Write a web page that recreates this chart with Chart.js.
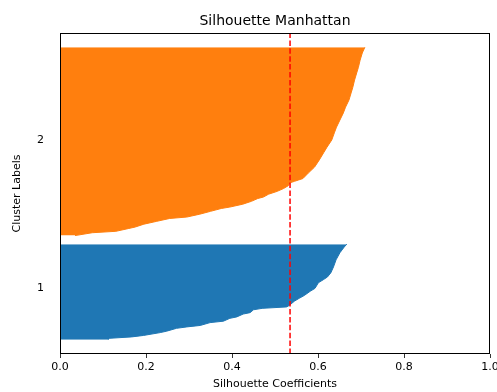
<!DOCTYPE html>
<html>
<head>
<meta charset="utf-8">
<script src="https://cdn.jsdelivr.net/npm/chart.js@4.4.1/dist/chart.umd.min.js"></script>
<style>
  html, body { margin: 0; padding: 0; background: #fff; }
  #wrap { width: 497px; height: 392px; }
</style>
</head>
<body>
<div id="wrap"><canvas id="c" width="497" height="392"></canvas></div>
<script>
// Silhouette profile per cluster: sorted sample rank -> silhouette coefficient
const clusterNames = ['1', '2'];

const cluster1Rank = [0, 1, 2, 3, 5, 6, 8, 9, 10, 12, 13, 15, 16, 18, 19, 21, 22, 23, 24, 27, 29, 31, 34, 36, 40, 42, 44, 47, 51, 56, 61, 65, 67];
const cluster1Silhouette = [0.112, 0.115, 0.167, 0.194, 0.233, 0.248, 0.271, 0.295, 0.326, 0.349, 0.380, 0.395, 0.411, 0.426, 0.442, 0.450, 0.470, 0.527, 0.533, 0.545, 0.556, 0.568, 0.582, 0.593, 0.601, 0.612, 0.622, 0.630, 0.636, 0.642, 0.651, 0.661, 0.667];

const cluster2Rank = [0, 2, 3, 5, 6, 8, 10, 12, 13, 15, 17, 19, 20, 22, 24, 26, 27, 29, 31, 33, 35, 37, 38, 39, 40, 44, 48, 53, 58, 62, 67, 72, 76, 81, 86, 90, 95, 100, 104, 109, 114, 118, 123, 128, 132];
const cluster2Silhouette = [0.035, 0.075, 0.130, 0.160, 0.175, 0.195, 0.225, 0.255, 0.295, 0.325, 0.350, 0.375, 0.395, 0.425, 0.445, 0.460, 0.473, 0.485, 0.505, 0.520, 0.531, 0.535, 0.545, 0.555, 0.565, 0.578, 0.592, 0.603, 0.613, 0.621, 0.632, 0.638, 0.643, 0.651, 0.659, 0.664, 0.672, 0.677, 0.681, 0.685, 0.690, 0.694, 0.698, 0.703, 0.709];

const averageSilhouette = 0.535;
const xTickValues = [0, 0.2, 0.4, 0.6, 0.8, 1.0];
const clusterLabelY = [46, 150];

// Vertical stacking of the bands, in sample units
const bandStart = [10, 83];
const yTop = 225;

const toPoints = (ranks, vals, start) => ranks.map((r, i) => ({ x: vals[i], y: start + r }));

Chart.defaults.font.family = "'DejaVu Sans', sans-serif";
Chart.defaults.color = '#000';

const framePlugin = {
  id: 'frame',
  afterDraw(chart) {
    const { ctx, chartArea: a } = chart;
    ctx.save();
    ctx.strokeStyle = '#000';
    ctx.lineWidth = 1;
    ctx.strokeRect(Math.round(a.left) + 0.5, Math.round(a.top) + 0.5,
                   Math.round(a.right - a.left) - 1, Math.round(a.bottom - a.top) - 1);
    ctx.restore();
  }
};

new Chart(document.getElementById('c'), {
  type: 'line',
  data: {
    datasets: [
      {
        label: 'average',
        data: [{ x: averageSilhouette, y: 0 }, { x: averageSilhouette, y: yTop }],
        borderColor: '#ff0000',
        borderWidth: 1.5,
        borderDash: [5.5, 2.4],
        pointRadius: 0,
        fill: false,
        order: 0
      },
      {
        label: 'Cluster ' + clusterNames[1],
        data: toPoints(cluster2Rank, cluster2Silhouette, bandStart[1]),
        borderColor: '#ff7f0e',
        backgroundColor: '#ff7f0e',
        borderWidth: 1,
        pointRadius: 0,
        tension: 0,
        fill: 'origin',
        order: 1
      },
      {
        label: 'Cluster ' + clusterNames[0],
        data: toPoints(cluster1Rank, cluster1Silhouette, bandStart[0]),
        borderColor: '#1f77b4',
        backgroundColor: '#1f77b4',
        borderWidth: 1,
        pointRadius: 0,
        tension: 0,
        fill: 'origin',
        order: 2
      }
    ]
  },
  options: {
    indexAxis: 'y',
    responsive: false,
    animation: false,
    devicePixelRatio: 1,
    layout: { padding: { left: 0, right: 7, top: 0, bottom: 0 } },
    plugins: {
      legend: { display: false },
      tooltip: { enabled: false },
      title: {
        display: true,
        text: 'Silhouette Manhattan',
        fullSize: false,
        color: '#000',
        font: { size: 14, weight: 'normal' },
        padding: { top: 12.6, bottom: 3.6 }
      }
    },
    scales: {
      x: {
        type: 'linear',
        min: 0,
        max: 1,
        afterBuildTicks: s => { s.ticks = xTickValues.map(v => ({ value: v })); },
        afterFit: s => { s.paddingLeft = 0; s.paddingRight = 0; s.height = 38; },
        ticks: { callback: v => Number(v).toFixed(1), font: { size: 11 }, padding: 3, maxRotation: 0, autoSkip: false },
        grid: { display: true, drawOnChartArea: false, drawTicks: true, tickLength: 4, color: '#000', lineWidth: 0.8 },
        border: { display: false },
        title: { display: true, text: 'Silhouette Coefficients', font: { size: 11 }, padding: { top: 0, bottom: 1 } }
      },
      y: {
        type: 'linear',
        min: 0,
        max: yTop,
        afterBuildTicks: s => { s.ticks = clusterLabelY.map(v => ({ value: v })); },
        afterFit: s => { s.width = 60; },
        ticks: { callback: (v, i) => clusterNames[i], font: { size: 11 }, padding: 16, autoSkip: false },
        grid: { display: false, drawTicks: false },
        border: { display: false },
        title: { display: true, text: 'Cluster Labels', font: { size: 11 }, padding: { top: 11, bottom: 0 } }
      }
    }
  },
  plugins: [framePlugin]
});
</script>
</body>
</html>
